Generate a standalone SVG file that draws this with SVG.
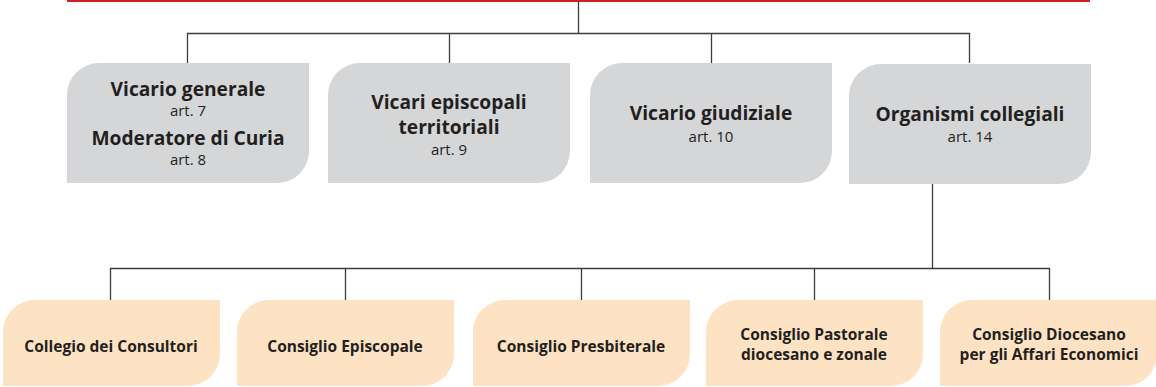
<svg xmlns="http://www.w3.org/2000/svg" width="1156" height="387" viewBox="0 0 1156 387">
<style>
.g{fill:#d5d6d8}
.o{fill:#fde3c3}
.ln{stroke:#3c3c3c;stroke-width:1.3;fill:none}
.t{font-family:"Open Sans","Noto Sans",sans-serif;fill:#231f20;text-anchor:middle}
.h{font-size:19.2px;font-weight:700}
.a{font-size:15px;font-weight:400}
.s{font-size:15.5px;font-weight:700}
</style>
<line x1="67" y1="1" x2="1090" y2="1" stroke="#cf2027" stroke-width="2"/>
<g id="connectors" class="ln">
<path d="M578.5 1V33.5M187.5 63V33.5H969.5V63M449.5 33.5V63M711.5 33.5V63"/>
<path d="M932.5 184V268.5M110.5 300V268.5H1049.5V300M345.5 268.5V300M581.5 268.5V300M814.5 268.5V300"/>
</g>
<g id="vicario-generale">
<path class="g" d="M67 95a32 32 0 0 1 32-32H309V151a32 32 0 0 1-32 32H67Z"/>
<text class="t h" x="188" y="96">Vicario generale</text>
<text class="t a" x="188" y="116">art. 7</text>
<text class="t h" x="188" y="145">Moderatore di Curia</text>
<text class="t a" x="188" y="165">art. 8</text>
</g>
<g id="vicari-episcopali">
<path class="g" d="M328 95a32 32 0 0 1 32-32H570V151a32 32 0 0 1-32 32H328Z"/>
<text class="t h" x="449" y="109">Vicari episcopali</text>
<text class="t h" x="449" y="134">territoriali</text>
<text class="t a" x="449" y="155">art. 9</text>
</g>
<g id="vicario-giudiziale">
<path class="g" d="M590 95a32 32 0 0 1 32-32H832V151a32 32 0 0 1-32 32H590Z"/>
<text class="t h" x="711" y="120">Vicario giudiziale</text>
<text class="t a" x="711" y="142">art. 10</text>
</g>
<g id="organismi-collegiali">
<path class="g" d="M849 96a32 32 0 0 1 32-32H1091V152a32 32 0 0 1-32 32H849Z"/>
<text class="t h" x="970" y="121">Organismi collegiali</text>
<text class="t a" x="970" y="142">art. 14</text>
</g>
<g id="collegio-consultori">
<path class="o" d="M3 332a32 32 0 0 1 32-32H220V354a32 32 0 0 1-32 32H3Z"/>
<text class="t s" x="111" y="352">Collegio dei Consultori</text>
</g>
<g id="consiglio-episcopale">
<path class="o" d="M237 332a32 32 0 0 1 32-32H454V354a32 32 0 0 1-32 32H237Z"/>
<text class="t s" x="345" y="352">Consiglio Episcopale</text>
</g>
<g id="consiglio-presbiterale">
<path class="o" d="M473 332a32 32 0 0 1 32-32H690V354a32 32 0 0 1-32 32H473Z"/>
<text class="t s" x="581" y="352">Consiglio Presbiterale</text>
</g>
<g id="consiglio-pastorale">
<path class="o" d="M706 332a32 32 0 0 1 32-32H923V354a32 32 0 0 1-32 32H706Z"/>
<text class="t s" x="814" y="340">Consiglio Pastorale</text>
<text class="t s" x="814" y="360">diocesano e zonale</text>
</g>
<g id="consiglio-affari-economici">
<path class="o" d="M940 332a32 32 0 0 1 32-32H1157V354a32 32 0 0 1-32 32H940Z"/>
<text class="t s" x="1049" y="340">Consiglio Diocesano</text>
<text class="t s" x="1049" y="360">per gli Affari Economici</text>
</g>
</svg>
